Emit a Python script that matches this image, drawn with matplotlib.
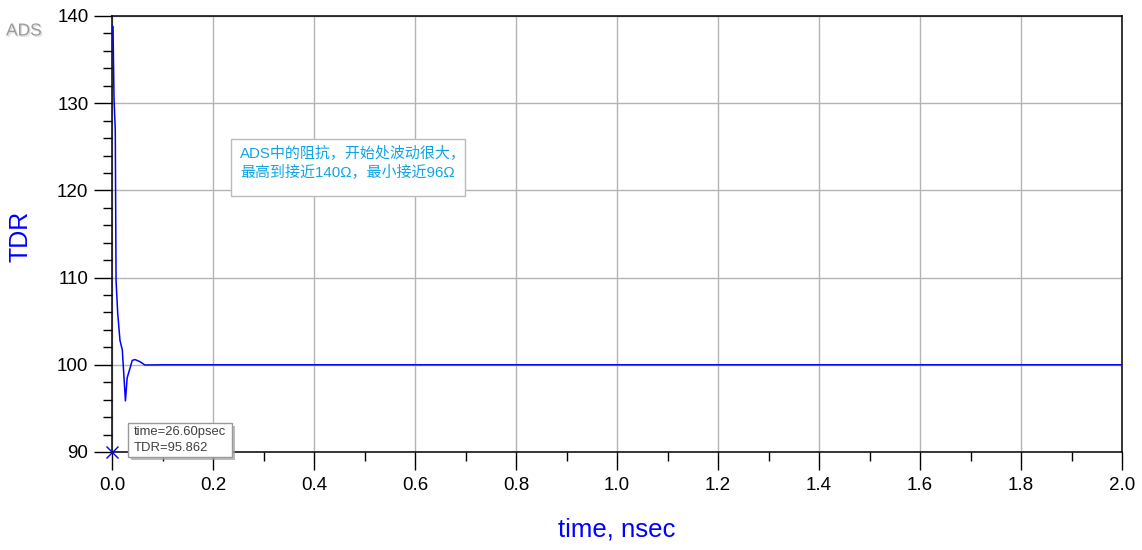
import numpy as np
import matplotlib
matplotlib.use("Agg")
import matplotlib.pyplot as plt
import matplotlib.patheffects as pe
from matplotlib.patches import Rectangle
from matplotlib.ticker import MultipleLocator, FormatStrFormatter

# TDR trace (time in nsec, impedance in ohm)
time_ns = [0.0, 0.002, 0.004, 0.0065, 0.008, 0.0113, 0.0158, 0.0204,
           0.0238, 0.0266, 0.030, 0.0356, 0.040, 0.0455, 0.0554, 0.065,
           0.1, 2.0]
tdr = [138.8, 138.8, 130.5, 126.9, 109.7, 105.9, 102.8, 101.7,
       98.5, 95.862, 98.5, 99.6, 100.5, 100.6, 100.36, 99.98,
       100.0, 100.0]

marker_t = 0.0
marker_v = 90
marker_lines = ["time=26.60psec", "TDR=95.862"]
note_lines = ["ADS中的阻抗，开始处波动很大，", "最高到接近140Ω，最小接近96Ω"]

plt.rcParams['font.family'] = ['Liberation Sans', 'DejaVu Sans']

W, H = 1142, 550
L, R, T, B = 112, 1122, 16, 452

fig = plt.figure(figsize=(W / 100, H / 100), dpi=100)
ax = fig.add_axes([L / W, 1 - B / H, (R - L) / W, (B - T) / H])


def ax_x(px):
    return (px - L) / (R - L)


def ax_y(py):
    return (B - py) / (B - T)


ax.plot(time_ns, tdr, color='#0000ff', lw=1.1, zorder=3)
ax.plot([marker_t], [marker_v], marker='x', color='#0000ff', ms=8, mew=1,
        clip_on=False, zorder=4)

ax.set_xlim(0, 2.0)
ax.set_ylim(90, 140)
ax.xaxis.set_major_locator(MultipleLocator(0.2))
ax.xaxis.set_minor_locator(MultipleLocator(0.1))
ax.yaxis.set_major_locator(MultipleLocator(10))
ax.yaxis.set_minor_locator(MultipleLocator(2))
ax.xaxis.set_major_formatter(FormatStrFormatter('%.1f'))

ax.grid(True, which='major', color='#b4b4b4', lw=1)
ax.tick_params(which='major', length=13, width=1, labelsize=13.5,
               direction='out', pad=4)
ax.tick_params(which='minor', length=6.5, width=1, direction='out')
ax.tick_params(axis='x', which='major', pad=5)
for s in ax.spines.values():
    s.set_linewidth(1.1)
    s.set_color('black')

ax.set_xlabel("time, nsec", color='#0000ff', fontsize=18.5)
ax.xaxis.set_label_coords(0.5, ax_y(530))
ax.xaxis.label.set_va('center')
ax.set_ylabel("TDR", color='#0000ff', fontsize=18)
ax.yaxis.set_label_coords(ax_x(20), ax_y(236))
ax.yaxis.label.set_va('center')

# annotation note
ax.add_patch(Rectangle((ax_x(231), ax_y(196)), ax_x(465) - ax_x(231),
                       ax_y(139) - ax_y(196), transform=ax.transAxes,
                       fc='white', ec='#bbbbbb', lw=1, zorder=5))
for line, py in zip(note_lines, [153, 172]):
    ax.text(ax_x(240), ax_y(py), line, transform=ax.transAxes, fontsize=10.8,
            color='#10a4e4', va='center', ha='left',
            family=['Liberation Sans', 'Noto Sans CJK SC'], zorder=6)

# marker readout with drop shadow
box_x0, box_y0 = ax_x(128), ax_y(457)
box_w, box_h = ax_x(232) - ax_x(128), ax_y(423) - ax_y(457)
ax.add_patch(Rectangle((box_x0 + ax_x(L + 3), box_y0 - 3 / (B - T)), box_w, box_h,
                       transform=ax.transAxes, fc='#a0a0a0', ec='none',
                       alpha=0.7, clip_on=False, zorder=6))
ax.add_patch(Rectangle((box_x0, box_y0), box_w, box_h, transform=ax.transAxes,
                       fc='white', ec='#999999', lw=1, clip_on=False, zorder=7))
for line, py in zip(marker_lines, [432, 448]):
    ax.text(ax_x(134), ax_y(py), line, transform=ax.transAxes, fontsize=9.4,
            color='#404040', va='center', ha='left', zorder=8)

# ADS watermark
fig.text(6 / W, 1 - 31 / H, "ADS", fontsize=12.5, color='#9a9a9a',
         va='center', ha='left',
         path_effects=[pe.withSimplePatchShadow(offset=(1, -1),
                                                shadow_rgbFace='#dddddd', alpha=1)])

fig.savefig("out.png", dpi=100)
